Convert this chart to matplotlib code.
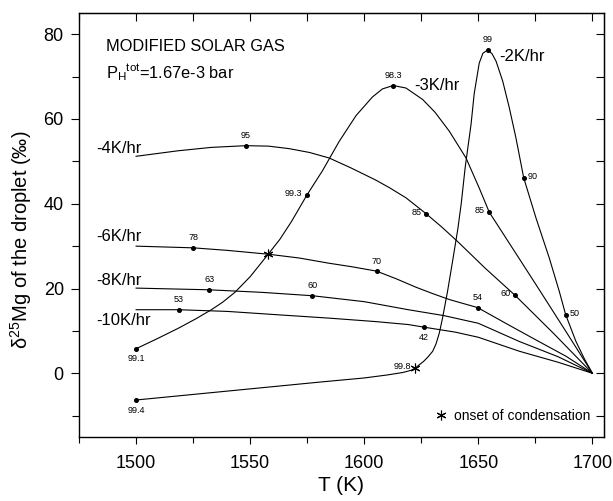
import matplotlib
matplotlib.use("Agg")
import matplotlib.pyplot as plt
from matplotlib.ticker import MultipleLocator

plt.rcParams['font.family'] = ['Liberation Sans', 'DejaVu Sans']

# ---- data ----
# -2 K/hr
T_2 = [1500, 1540, 1580, 1600, 1610, 1617, 1620.5, 1622.4, 1624.1, 1626, 1628, 1630, 1631.5, 1632.9,
       1634.3, 1636.5, 1638.7, 1641, 1642.5, 1644.2, 1645.3, 1646.8, 1648.2, 1650.4, 1652, 1654.1,
       1656, 1657.8, 1660.7, 1663.6, 1666.5, 1669.9, 1675.3, 1681.1, 1685.5, 1688.3, 1692.8,
       1696.5, 1700]
d_2 = [-6.3, -4.2, -2.1, -1.1, -0.4, 0.2, 0.7, 1.25, 2.0, 2.8, 3.9, 5.2, 7.0, 9.5,
       13.0, 19.3, 26.4, 34.0, 40.0, 48.4, 52.8, 58.7, 66.0, 73.2, 75.5, 76.3,
       75.4, 73.6, 68.9, 62.6, 55.5, 46.1, 36.6, 27.2, 19.3, 13.8, 7.5,
       3.4, 0.0]
# -3 K/hr
T_3 = [1500, 1509, 1518.4, 1526, 1533, 1538, 1543.3, 1550, 1557.9, 1563, 1568.1, 1574.8,
       1581.7, 1589, 1596.4, 1603.6, 1608, 1612.7, 1618.3, 1625.6, 1631, 1637.3, 1644.6,
       1650.4, 1654.8, 1665, 1675.3, 1688, 1700]
d_3 = [5.8, 8.1, 10.6, 12.8, 15.0, 16.8, 19.1, 22.8, 28.1, 31.6, 35.8, 42.0,
       47.8, 54.7, 60.8, 65.2, 67.1, 67.9, 67.3, 64.6, 61.6, 57.1, 50.8,
       43.7, 38.0, 29.5, 20.9, 10.2, 0.0]
# -4 K/hr
T_4 = [1500, 1518.4, 1533, 1548.1, 1558, 1567.1, 1576, 1584.6, 1594, 1605, 1611, 1618.3,
       1627.0, 1634, 1640.9, 1653, 1666.1, 1683, 1700]
d_4 = [51.2, 52.5, 53.3, 53.7, 53.6, 53.0, 52.1, 50.8, 48.5, 45.6, 43.8, 41.4,
       37.7, 34.5, 31.1, 24.8, 18.4, 9.4, 0.0]
# -6 K/hr
T_6 = [1500, 1525.0, 1540, 1557.9, 1571.5, 1584.2, 1595, 1605.4, 1614, 1622.7, 1630, 1637.3,
       1649.7, 1662, 1673.8, 1688.5, 1700]
d_6 = [30.0, 29.6, 29.0, 28.1, 27.2, 26.0, 25.1, 24.1, 22.3, 20.3, 18.8, 17.4,
       15.5, 11.8, 8.3, 4.0, 0.0]
# -8 K/hr
T_8 = [1500, 1532.0, 1555, 1577.3, 1600, 1619.3, 1635, 1650, 1668, 1685, 1700]
d_8 = [20.1, 19.7, 19.1, 18.3, 16.9, 15.0, 13.6, 11.8, 7.5, 3.9, 0.0]
# -10 K/hr
T_10 = [1500, 1518.7, 1540, 1562.3, 1585, 1605, 1619.3, 1626.0, 1640, 1650, 1668, 1685, 1700]
d_10 = [15.0, 15.0, 14.6, 13.8, 13.0, 12.2, 11.5, 10.9, 9.7, 8.5, 5.2, 2.6, 0.0]

# labelled points (percent condensed)
lab_T = [1500, 1622.4, 1654.1, 1669.9, 1688.3,
         1500, 1574.8, 1612.7, 1654.8,
         1548.1, 1627.0, 1666.1,
         1525.0, 1605.4, 1649.7,
         1532.0, 1577.3,
         1518.7, 1626.0]
lab_d = [-6.3, 1.25, 76.3, 46.1, 13.8,
         5.8, 42.0, 67.9, 38.0,
         53.7, 37.7, 18.4,
         29.6, 24.1, 15.5,
         19.7, 18.3,
         15.0, 10.9]
lab_txt = ["99.4", "99.8", "99", "90", "50",
           "99.1", "99.3", "98.3", "85",
           "95", "85", "60",
           "78", "70", "54",
           "63", "60",
           "53", "42"]
lab_pos = ["below", "left", "above", "right", "right",
           "below", "left", "above", "left",
           "above", "left", "left",
           "above", "above", "above",
           "above", "above",
           "above", "below"]

# onset of condensation
onset_T = [1557.9, 1622.4]
onset_d = [28.1, 1.25]

rate_labels = ["-2K/hr", "-3K/hr", "-4K/hr", "-6K/hr", "-8K/hr", "-10K/hr"]
rate_label_T = [1659.2, 1621.9, 1482.5, 1482.5, 1482.5, 1482.5]
rate_label_d = [74.8, 67.9, 53.1, 32.3, 21.9, 12.5]

# ---- figure ----
fig = plt.figure(figsize=(6.13, 5.01), dpi=100)
ax = fig.add_axes([0.129, 0.128, 0.856, 0.846])

for T, d in [(T_2, d_2), (T_3, d_3), (T_4, d_4), (T_6, d_6), (T_8, d_8), (T_10, d_10)]:
    ax.plot(T, d, color='black', lw=0.8)

dotT = [t for t, s in zip(lab_T, lab_txt) if s != "99.8"]
dotd = [v for v, s in zip(lab_d, lab_txt) if s != "99.8"]
ax.plot(dotT, dotd, 'o', color='black', ms=2.6, ls='none')

ax.plot(onset_T, onset_d, marker=(6, 2, 0), color='black', ms=7, mew=0.8, ls='none',
        label='onset of condensation')

for t, v, s, p in zip(lab_T, lab_d, lab_txt, lab_pos):
    if p == "above":
        ax.annotate(s, (t, v), xytext=(0, 4), textcoords='offset points', ha='center', va='bottom', fontsize=6.5)
    elif p == "below":
        ax.annotate(s, (t, v), xytext=(0, -4), textcoords='offset points', ha='center', va='top', fontsize=6.5)
    elif p == "left":
        ax.annotate(s, (t, v), xytext=(-3, 1), textcoords='offset points', ha='right', va='center', fontsize=6.5)
    else:
        ax.annotate(s, (t, v), xytext=(3, 1), textcoords='offset points', ha='left', va='center', fontsize=6.5)

for s, t, v in zip(rate_labels, rate_label_T, rate_label_d):
    ax.text(t, v, s, fontsize=12, ha='left', va='center')

ax.text(1486.8, 77.1, "MODIFIED SOLAR GAS", fontsize=11.8, ha='left', va='center')
ax.text(1486.8, 71.0, r"P$_\mathregular{H}$$^\mathregular{tot}$=1.67e-3 bar", fontsize=11.8, ha='left', va='center')

ax.set_xlim(1475, 1705)
ax.set_ylim(-15, 85)
ax.xaxis.set_major_locator(MultipleLocator(50))
ax.xaxis.set_minor_locator(MultipleLocator(25))
ax.yaxis.set_major_locator(MultipleLocator(20))
ax.yaxis.set_minor_locator(MultipleLocator(10))
ax.tick_params(which='both', direction='out', top=False, right=False, labelsize=13, width=0.8)
ax.tick_params(axis='x', which='major', length=5, pad=8)
ax.tick_params(axis='x', which='minor', length=4)
ax.tick_params(axis='y', which='major', length=6, pad=5)
ax.tick_params(axis='y', which='minor', length=5)

secx = ax.secondary_xaxis('top')
secx.xaxis.set_major_locator(MultipleLocator(25))
secx.tick_params(direction='in', length=6, labeltop=False, width=0.8)
secy = ax.secondary_yaxis('right')
secy.yaxis.set_major_locator(MultipleLocator(10))
secy.tick_params(direction='in', length=6, labelright=False, width=0.8)

for sp in ax.spines.values():
    sp.set_linewidth(1.0)

ax.set_xlabel("T (K)", fontsize=15, labelpad=3)
ax.set_ylabel(r"$\mathregular{\delta^{25}}$Mg of the droplet (‰)", fontsize=14.5)
ax.yaxis.set_label_coords(-0.085, 0.465)

ax.legend(loc='lower right', frameon=False, fontsize=10, handletextpad=0.4,
          handlelength=1.0, borderaxespad=0.6)

fig.savefig("out.png", dpi=100)
